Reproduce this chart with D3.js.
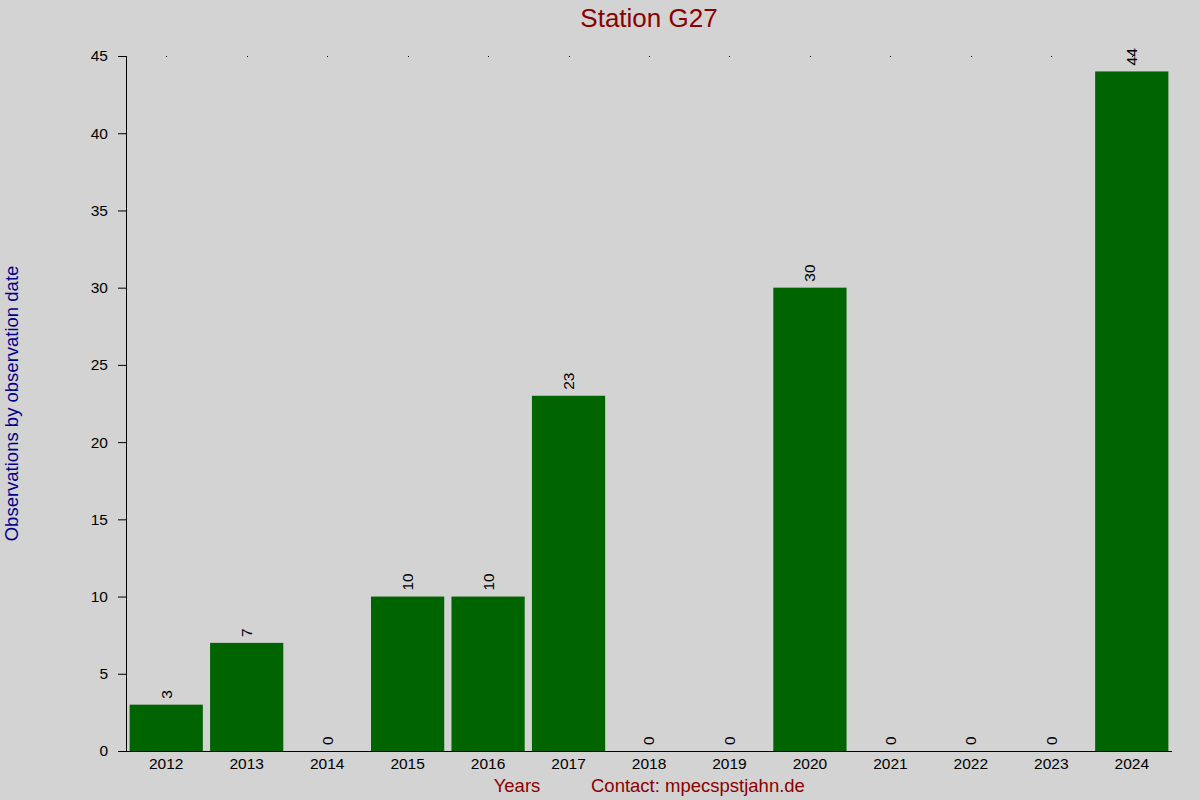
<!DOCTYPE html>
<html>
<head>
<meta charset="utf-8">
<script src="https://cdn.jsdelivr.net/npm/d3@7"></script>
<style>
  body { margin: 0; background: #d3d3d3; }
  svg { display: block; }
  svg text { font-family: "Liberation Sans", Arial, sans-serif; }
</style>
</head>
<body>
<div id="chart"></div>
<script>
// chart data
var years = ["2012","2013","2014","2015","2016","2017","2018","2019","2020","2021","2022","2023","2024"];
var counts = [3, 7, 0, 10, 10, 23, 0, 0, 30, 0, 0, 0, 44];
var yTicks = [0, 5, 10, 15, 20, 25, 30, 35, 40, 45];

var width = 1200, height = 800;
var margin = {top: 56, right: 28, bottom: 49, left: 126};
var w = width - margin.left - margin.right,
    h = height - margin.top - margin.bottom;

var svg = d3.select("#chart").append("svg")
    .attr("width", width)
    .attr("height", height);

svg.append("rect").attr("width", width).attr("height", height).attr("fill", "#d3d3d3");

var g = svg.append("g").attr("transform", "translate(" + margin.left + "," + margin.top + ")");

var x = d3.scaleBand().domain(years).range([0, w]).paddingInner(0.09).paddingOuter(0.045);
var y = d3.scaleLinear().domain([0, 45]).range([h, 0]);

// bars
g.selectAll(".bar")
  .data(counts)
  .enter().append("rect")
    .attr("class", "bar")
    .attr("x", function(d, i) { return x(years[i]); })
    .attr("y", function(d) { return y(d); })
    .attr("width", x.bandwidth())
    .attr("height", function(d) { return h - y(d); })
    .attr("fill", "#006400");

// value labels (rotated)
g.selectAll(".val")
  .data(counts)
  .enter().append("text")
    .attr("class", "val")
    .attr("transform", function(d, i) {
      return "translate(" + (x(years[i]) + x.bandwidth() / 2) + "," + (y(d) - 6) + ") rotate(-90)";
    })
    .attr("dy", "0.35em")
    .attr("text-anchor", "start")
    .style("font-size", "15.5px")
    .text(function(d) { return d; });

// top dots at category centres
g.selectAll(".dot")
  .data(years)
  .enter().append("rect")
    .attr("x", function(d) { return Math.round(x(d) + x.bandwidth() / 2); })
    .attr("y", 0)
    .attr("width", 1).attr("height", 1)
    .attr("fill", "#000");

// x axis
var xAxis = g.append("g")
    .attr("transform", "translate(0," + h + ")")
    .call(d3.axisBottom(x).tickSize(0).tickPadding(8));
xAxis.select(".domain").attr("d", "M0,0.5H" + w).attr("stroke", "#000");
xAxis.selectAll("text").attr("dy", "0.71em").attr("y", 7)
    .style("font-size", "15.5px").attr("fill", "#000");

// y axis
var yAxis = g.append("g")
    .call(d3.axisLeft(y).tickValues(yTicks).tickSize(8).tickPadding(10));
yAxis.select(".domain").attr("d", "M0.5,0V" + h).attr("stroke", "#000");
yAxis.selectAll("text").style("font-size", "15.5px").attr("fill", "#000");

// title
svg.append("text")
    .attr("x", 649).attr("y", 27)
    .attr("text-anchor", "middle")
    .style("font-size", "26px")
    .attr("fill", "#8b0000")
    .text("Station G27");

// y label
svg.append("text")
    .attr("transform", "translate(18," + (margin.top + h / 2) + ") rotate(-90)")
    .attr("text-anchor", "middle")
    .style("font-size", "18.5px")
    .attr("fill", "#00008b")
    .text("Observations by observation date");

// bottom labels
svg.append("text")
    .attr("x", 517).attr("y", 792)
    .attr("text-anchor", "middle")
    .style("font-size", "18.5px")
    .attr("fill", "#8b0000")
    .text("Years");

svg.append("text")
    .attr("x", 591).attr("y", 792)
    .attr("text-anchor", "start")
    .style("font-size", "18.5px")
    .attr("fill", "#8b0000")
    .text("Contact: mpecspstjahn.de");
</script>
</body>
</html>
